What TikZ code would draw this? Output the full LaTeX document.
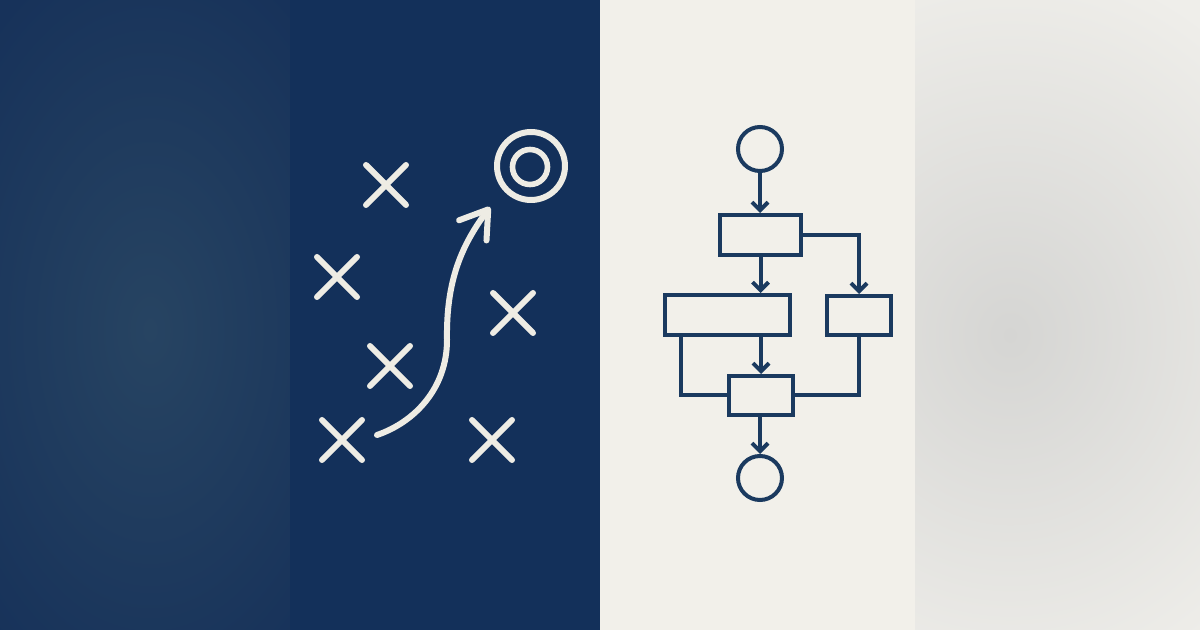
\documentclass[tikz,border=0pt]{standalone}
\usetikzlibrary{arrows.meta}
\definecolor{navyA}{HTML}{17325A}
\definecolor{navyGlow}{HTML}{274462}
\definecolor{navyB}{HTML}{13305A}
\definecolor{paper}{HTML}{F2F0EA}
\definecolor{grayEdge}{HTML}{EFEEEA}
\definecolor{grayGlow}{HTML}{D5D5D3}
\definecolor{chalk}{HTML}{EEECE4}
\definecolor{ink}{HTML}{1B3A5F}
\pgfdeclareradialshading{glowL}{\pgfpoint{0bp}{0bp}}{color(0bp)=(navyGlow); color(25bp)=(navyA); color(50bp)=(navyA)}
\pgfdeclareradialshading{glowR}{\pgfpoint{0bp}{0bp}}{color(0bp)=(grayGlow); color(25bp)=(grayEdge); color(50bp)=(grayEdge)}
\tikzset{
  chalkline/.style={draw=chalk, line width=3pt, line cap=round, line join=round},
  xmark/.pic={\draw[chalkline] (-10pt,-10pt) -- (10pt,10pt) (-10pt,10pt) -- (10pt,-10pt);},
  flowbox/.style={draw=ink, line width=2pt, rectangle, inner sep=0pt},
  flowend/.style={draw=ink, line width=2pt, circle, minimum size=22pt, inner sep=0pt},
  flowline/.style={draw=ink, line width=2pt},
  flowarrow/.style={flowline, -{Straight Barb[length=4pt,width=8pt]}}
}
\begin{document}
\begin{tikzpicture}[x=0.5pt,y=-0.5pt]
\useasboundingbox (0,0) rectangle (1200,630);
% backgrounds
\fill[navyA] (0,0) rectangle (290,630);
\begin{scope}
  \clip (0,0) rectangle (290,630);
  \shade[shading=glowL] (150,330) ellipse [x radius=120pt, y radius=200pt];
\end{scope}
\fill[navyB] (290,0) rectangle (600,630);
\fill[paper] (600,0) rectangle (915,630);
\fill[grayEdge] (915,0) rectangle (1200,630);
\begin{scope}
  \clip (915,0) rectangle (1200,630);
  \shade[shading=glowR] (1010,335) ellipse [x radius=170pt, y radius=190pt];
\end{scope}

% play diagram
\pic at (386,185) {xmark};
\pic at (337,277) {xmark};
\pic at (513,313) {xmark};
\pic at (390,366) {xmark};
\pic at (342,440) {xmark};
\pic at (492,440) {xmark};
\node[draw=chalk, line width=3pt, circle, minimum size=34pt, inner sep=0pt] (target) at (531,166) {};
\node[draw=chalk, line width=2.8pt, circle, minimum size=17.5pt, inner sep=0pt] (bull) at (530,167) {};
\coordinate (start) at (377,435);
\coordinate (tip) at (490,207);
\draw[chalkline, -{Straight Barb[length=13pt,width=17pt,round]}]
  (start) .. controls (415,422) and (447,388) .. (447,340)
          .. controls (446,280) and (462,245) .. (tip);

% flowchart
\node[flowend] (c1) at (760,149) {};
\node[flowbox, minimum width=40.5pt, minimum height=20pt] (b1) at (760.5,235) {};
\node[flowbox, minimum width=62.5pt, minimum height=20pt] (b2) at (727.5,315) {};
\node[flowbox, minimum width=32pt, minimum height=19.5pt] (b3) at (859,315.5) {};
\node[flowbox, minimum width=32pt, minimum height=19.5pt] (b4) at (761,395.5) {};
\node[flowend] (c2) at (760,478) {};
\draw[flowarrow] (c1) -- (c1 |- b1.north);
\draw[flowarrow] (b1.south) -- (b1.south |- b2.north);
\draw[flowarrow] (b1.east) -| (b3.north);
\draw[flowarrow] (b4.north |- b2.south) -- (b4.north);
\draw[flowline] ([xshift=9pt]b2.south west) |- (b4.west);
\draw[flowline] (b3.south) |- (b4.east);
\draw[flowarrow] (b4.south -| c2) -- (c2);
\end{tikzpicture}
\end{document}
